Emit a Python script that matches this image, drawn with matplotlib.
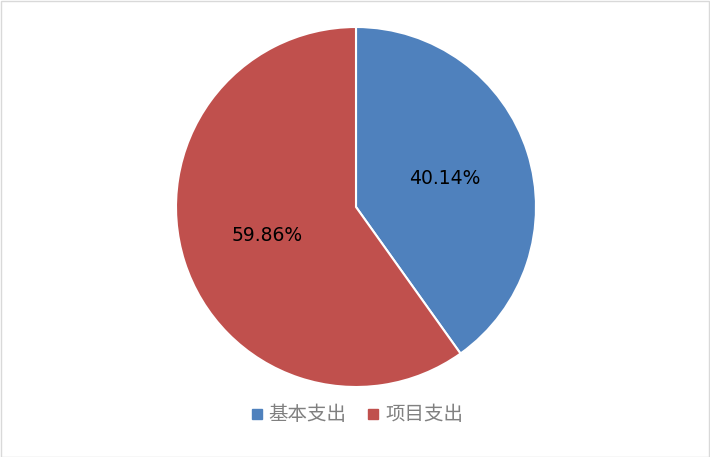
import matplotlib
matplotlib.use("Agg")
import matplotlib.pyplot as plt
from matplotlib.patches import Rectangle
from matplotlib.lines import Line2D

# data
categories = ["基本支出", "项目支出"]
shares = [40.14, 59.86]
colors = ["#4F81BD", "#C0504D"]

plt.rcParams['font.family'] = ['Noto Sans CJK SC', 'DejaVu Sans']

W, H = 710, 457
fig = plt.figure(figsize=(W / 100, H / 100), dpi=100)

# outer frame
fig.patches.append(Rectangle((0.5 / W, 0.5 / H), 1 - 1.5 / W, 1 - 1.5 / H,
                             transform=fig.transFigure, fill=False,
                             edgecolor="#D9D9D9", linewidth=1))

cx, cy, r = 356, 207, 180
ax = fig.add_axes([(cx - r) / W, (H - cy - r) / H, 2 * r / W, 2 * r / H])
wedges, texts, autotexts = ax.pie(
    shares, colors=colors, startangle=90, counterclock=False,
    autopct='%.2f%%', pctdistance=0.52,
    wedgeprops=dict(edgecolor="white", linewidth=1.5),
    textprops=dict(fontsize=13.5, color="black", family=['DejaVu Sans']))
ax.set_xlim(-1, 1)
ax.set_ylim(-1, 1)
ax.set_aspect('equal')
ax.axis('off')

handles = [Line2D([0], [0], marker='s', linestyle='none', markersize=7,
                  markerfacecolor=c, markeredgecolor=c) for c in colors]
leg = fig.legend(handles, categories, loc='center', bbox_to_anchor=(0.5, 1 - 415 / H),
                 ncol=2, frameon=False, fontsize=14, labelcolor="#808080",
                 handletextpad=0.1, columnspacing=0.9, handlelength=1.0)
for t in leg.get_texts():
    t.set_fontweight('light')

fig.savefig("out.png", dpi=100)
